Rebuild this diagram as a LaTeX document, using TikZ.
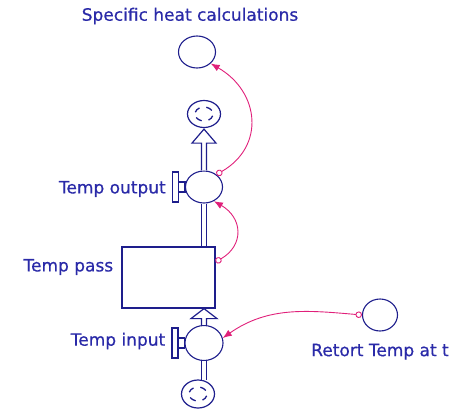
\documentclass[tikz,border=0pt]{standalone}
\usepackage{fontspec}
\setmainfont{DejaVu Sans}
\newfontfamily\sdfont[FakeBold=0.6]{DejaVu Sans}
\usepackage{tikz}
\usetikzlibrary{shapes.geometric,arrows.meta,positioning,calc}
\definecolor{stockline}{HTML}{1E1E8C}
\definecolor{labeltext}{HTML}{2A2AA8}
\definecolor{linkpink}{HTML}{E0207A}

\begin{document}
\begin{tikzpicture}[x=1bp, y=1bp,
  conv/.style={ellipse, draw=stockline, line width=1.1bp, minimum width=37bp, minimum height=32bp, inner sep=0pt},
  cloudnode/.style={ellipse, draw=stockline, line width=1.2bp, minimum width=33bp, minimum height=27bp, inner sep=0pt},
  stockbox/.style={rectangle, draw=stockline, line width=1.2bp, minimum width=93bp, minimum height=61bp, inner sep=0pt},
  lbl/.style={text=labeltext, inner sep=1bp, font=\sdfont\fontsize{17bp}{20bp}\selectfont},
  pipe/.style={draw=stockline, line width=1.2bp, double=white, double distance=3.5bp},
  flowtip/.style={draw=stockline, line width=1.2bp, fill=white, line join=miter},
  handle/.style={draw=stockline, line width=1.2bp, fill=white},
  link/.style={draw=linkpink, line width=0.9bp, {Circle[open, length=6.5bp, width=6.5bp]}-{Latex[length=9bp, width=7bp]}}
]
\useasboundingbox (0,0) rectangle (455,408);

\node[conv] (spec) at (197,356) {};
\node[lbl, above=10bp of spec, xshift=-7bp] (specLabel) {Specific heat calculations};

\node[cloudnode] (cloudTop) at (204,294) {};
\node[conv] (outValve) at (204,221) {};
\node[lbl, left=18bp of outValve, yshift=-2bp] (outLabel) {Temp output};

\node[stockbox] (tank) at (168.5,130.5) {};
\node[lbl, left=7bp of tank, yshift=10.5bp] (tankLabel) {Temp pass};

\node[conv, minimum width=38bp, minimum height=35bp] (inValve) at (204,65) {};
\node[lbl, left=18bp of inValve, yshift=2bp] (inLabel) {Temp input};
\node[cloudnode, minimum height=28bp] (cloudBot) at (198,14) {};

\node[conv, minimum width=35bp] (retort) at (380,93) {};
\node[lbl, below=11bp of retort] (retortLabel) {Retort Temp at t};

\coordinate (topTip) at ($(cloudTop.south)+(0,-1)$);
\coordinate (lowTip) at (inValve |- tank.south);

\draw[pipe] (outValve.south) -- (outValve.south |- tank.north);
\draw[pipe] ($(cloudBot.north -| inValve)+(0,-1)$) -- (inValve.south);
\draw[flowtip] ($(outValve.north)+(-2.5,0)$) |- ($(topTip)+(-12,-14)$) -- (topTip) -- ($(topTip)+(12,-14)$) -| ($(outValve.north)+(2.5,0)$);
\draw[flowtip] ($(inValve.north)+(-2.5,0)$) |- ($(lowTip)+(-13,-10)$) -- (lowTip) -- ($(lowTip)+(13,-10)$) -| ($(inValve.north)+(2.5,0)$);

\draw[handle] ($(outValve.west)+(-12.5,-15)$) rectangle ++(6,30);
\draw[handle] ($(outValve.west)+(-6.5,-5)$) rectangle ($(outValve.west)+(0,5)$);
\draw[handle] ($(inValve.west)+(-12.5,-15)$) rectangle ++(6,30);
\draw[handle] ($(inValve.west)+(-6.5,-5)$) rectangle ($(inValve.west)+(0,5)$);

\foreach \c in {cloudTop,cloudBot}
  \foreach \a in {30,120,210,300}
    \draw[stockline, line width=1.3bp] ([shift={(\a:9 and 7)}]\c.center) arc[start angle=\a, delta angle=45, x radius=9, y radius=7];

\draw[link] (outValve.45) to[out=30, in=-30, looseness=1.3] (spec.-40);
\draw[link] ($(tank.east)!0.5!(tank.north east)$) to[out=30, in=-30, looseness=1.4] (outValve.-55);
\draw[link] (retort.west) to[out=175, in=35] (inValve.15);
\end{tikzpicture}
\end{document}
